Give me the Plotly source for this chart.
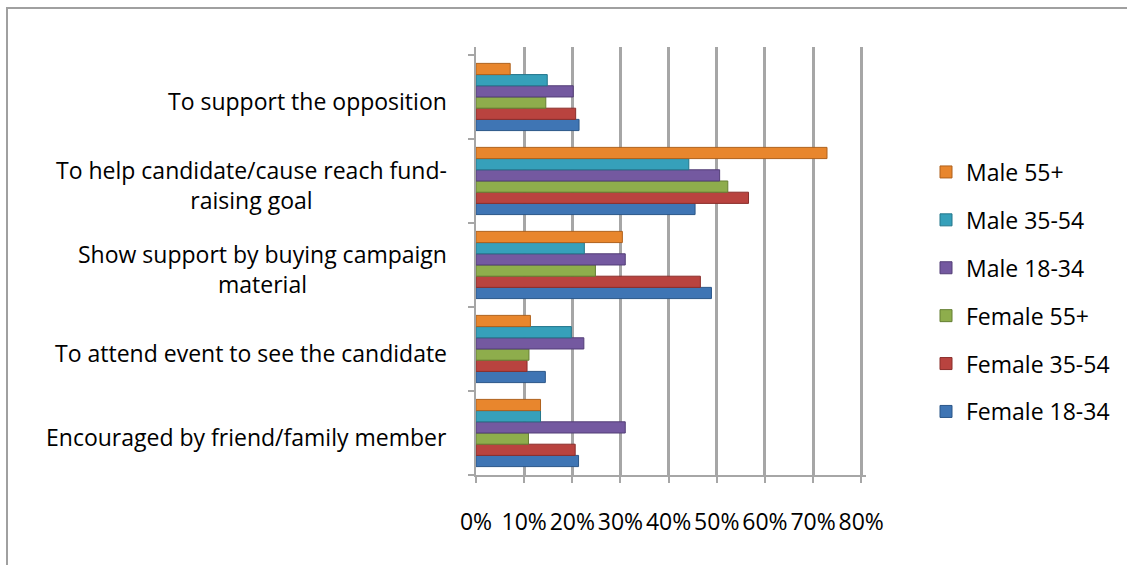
import plotly.graph_objects as go

# Reasons for donating, listed bottom-to-top as they appear on the axis
categories = [
    "Encouraged by friend/family member",
    "To attend event to see the candidate",
    "Show support by buying campaign<br>material",
    "To help candidate/cause reach fund-<br>raising goal",
    "To support the opposition",
]

female_18_34 = [0.213, 0.144, 0.489, 0.455, 0.214]
female_35_54 = [0.206, 0.106, 0.466, 0.566, 0.207]
female_55p = [0.109, 0.110, 0.248, 0.523, 0.145]
male_18_34 = [0.310, 0.224, 0.310, 0.506, 0.202]
male_35_54 = [0.134, 0.198, 0.225, 0.442, 0.148]
male_55p = [0.134, 0.113, 0.304, 0.729, 0.071]

x_ticks = [0, 0.1, 0.2, 0.3, 0.4, 0.5, 0.6, 0.7, 0.8]
x_tick_labels = ["0%", "10%", "20%", "30%", "40%", "50%", "60%", "70%", "80%"]

series = [
    ("Female 18-34", female_18_34, "#3F75B4", "#2B5688"),
    ("Female 35-54", female_35_54, "#B9433F", "#8A2E2B"),
    ("Female 55+", female_55p, "#8EAD4C", "#657F33"),
    ("Male 18-34", male_18_34, "#7459A0", "#533E77"),
    ("Male 35-54", male_35_54, "#36A0BA", "#23768B"),
    ("Male 55+", male_55p, "#E8862D", "#AF611C"),
]

FONT = "Open Sans"
FS = 23
fig = go.Figure()
n = len(series)
for i, (name, vals, color, edge) in enumerate(series):
    fig.add_trace(go.Bar(
        y=categories, x=vals, name=name, orientation="h",
        marker=dict(color=color, line=dict(color=edge, width=1)),
        legendgroup=f"g{i}", legendrank=n - i,
    ))

# category labels: centred lines, right-aligned block left of the axis
for cat in categories:
    fig.add_annotation(
        x=0, xref="paper", y=cat, yref="y", text=cat, showarrow=False,
        xanchor="right", yanchor="middle", align="center", xshift=-27, yshift=-4,
        font=dict(family=FONT, size=FS, color="#000000"),
    )

W, H = 1127, 565
L, R, T, B = 476, 261, 47, 90
PW = W - L - R
fig.update_layout(
    width=W, height=H,
    margin=dict(l=L, r=R, t=T, b=B),
    paper_bgcolor="white", plot_bgcolor="white",
    barmode="group", bargap=0.2, bargroupgap=0,
    font=dict(family=FONT, size=FS, color="#000000"),
    showlegend=True,
    legend=dict(
        traceorder="grouped", tracegroupgap=15,
        x=(926 - L) / PW, xanchor="left", xref="paper",
        y=(H - B - 292) / (H - T - B), yanchor="middle",
        font=dict(family=FONT, size=FS),
        itemwidth=30, bgcolor="rgba(0,0,0,0)",
    ),
    xaxis=dict(
        range=[0, 0.81], tickvals=x_ticks, ticktext=x_tick_labels,
        showgrid=True, gridcolor="#A6A6A6", gridwidth=2.5,
        showline=True, linecolor="#A6A6A6", linewidth=2,
        ticks="outside", ticklen=6, tickcolor="#A6A6A6", tickwidth=2,
        ticklabelstandoff=19, zeroline=False,
        tickfont=dict(family=FONT, size=FS),
    ),
    yaxis=dict(
        range=[-0.5, 4.595], showticklabels=False,
        showline=True, linecolor="#A6A6A6", linewidth=2,
        ticks="outside", tickson="boundaries", ticklen=6,
        tickcolor="#A6A6A6", tickwidth=2, showgrid=False,
    ),
    shapes=[dict(
        type="rect", xref="paper", yref="paper",
        x0=(7 - L) / PW, x1=(W + 20 - L) / PW,
        y0=(H - B - (H + 20)) / (H - T - B), y1=(H - B - 8) / (H - T - B),
        line=dict(color="#A0A0A0", width=2), fillcolor="rgba(0,0,0,0)",
        layer="below",
    )],
)

fig.write_html("out.html")
